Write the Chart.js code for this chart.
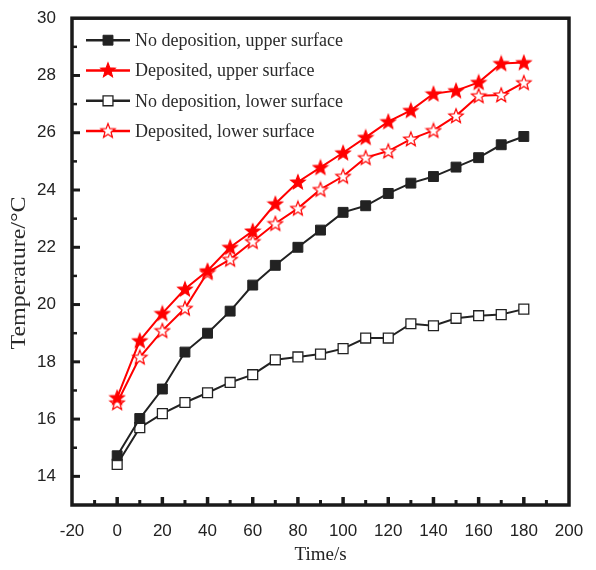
<!DOCTYPE html>
<html>
<head>
<meta charset="utf-8">
<script src="https://cdn.jsdelivr.net/npm/chart.js@4.4.0/dist/chart.umd.min.js"></script>
<style>
  html, body { margin: 0; padding: 0; background: #fff; }
</style>
</head>
<body>
<canvas id="chart" width="596" height="570"></canvas>
<script>
// Time (s) and surface temperatures (°C)
const times = [0, 10, 20, 30, 40, 50, 60, 70, 80, 90, 100, 110, 120, 130, 140, 150, 160, 170, 180];
const noDepUpper = [14.72, 16.02, 17.05, 18.34, 19.0, 19.77, 20.68, 21.37, 22.0, 22.6, 23.22, 23.45, 23.88, 24.24, 24.47, 24.8, 25.13, 25.58, 25.87];
const depUpper   = [16.75, 18.74, 19.69, 20.54, 21.18, 22.0, 22.57, 23.52, 24.28, 24.79, 25.3, 25.84, 26.39, 26.78, 27.36, 27.47, 27.76, 28.42, 28.45];
const noDepLower = [14.42, 15.7, 16.19, 16.58, 16.92, 17.28, 17.55, 18.07, 18.17, 18.27, 18.46, 18.83, 18.83, 19.33, 19.26, 19.52, 19.61, 19.65, 19.84];
const depLower   = [16.57, 18.16, 19.09, 19.87, 21.12, 21.58, 22.2, 22.83, 23.36, 24.02, 24.48, 25.13, 25.36, 25.78, 26.08, 26.59, 27.29, 27.32, 27.75];

const xTicks = [-20, 0, 20, 40, 60, 80, 100, 120, 140, 160, 180, 200];
const yTicks = [14, 16, 18, 20, 22, 24, 26, 28, 30];

const RED = '#ff0000';
const BLACK = '#222222';
const SERIF = '"Liberation Serif", "Times New Roman", serif';
const SANS = '"Liberation Sans", Arial, sans-serif';

// five-pointed star marker, filled or hollow
function makeStar(fill, stroke) {
  const c = document.createElement('canvas');
  c.width = 18; c.height = 18;
  const g = c.getContext('2d');
  const R = 7.5, r = 3.2, cx = 9, cy = 9.5;
  g.beginPath();
  for (let i = 0; i < 10; i++) {
    const rad = i % 2 ? r : R;
    const a = -Math.PI / 2 + i * Math.PI / 5;
    g.lineTo(cx + rad * Math.cos(a), cy + rad * Math.sin(a));
  }
  g.closePath();
  g.fillStyle = fill;
  g.fill();
  g.lineWidth = 1.2;
  g.strokeStyle = stroke;
  g.stroke();
  return c;
}
const starFilled = makeStar(RED, RED);
const starOpen = makeStar('#ffffff', RED);

function pts(arr) {
  return times.map((t, i) => ({ x: t, y: arr[i] }));
}

const datasets = [
  { label: 'No deposition, upper surface', data: pts(noDepUpper), borderColor: BLACK, borderWidth: 2,
    pointStyle: 'rect', pointRadius: 7, pointBackgroundColor: BLACK, pointBorderColor: BLACK, pointBorderWidth: 1 },
  { label: 'Deposited, upper surface', data: pts(depUpper), borderColor: RED, borderWidth: 2,
    pointStyle: starFilled },
  { label: 'No deposition, lower surface', data: pts(noDepLower), borderColor: BLACK, borderWidth: 2,
    pointStyle: 'rect', pointRadius: 7, pointBackgroundColor: '#ffffff', pointBorderColor: BLACK, pointBorderWidth: 1.3 },
  { label: 'Deposited, lower surface', data: pts(depLower), borderColor: RED, borderWidth: 2,
    pointStyle: starOpen }
];

// frame with inward major/minor ticks, plus the rotated y title
const framePlugin = {
  id: 'frame',
  afterDatasetsDraw(chart) {
    const { ctx, chartArea: a, scales } = chart;
    ctx.save();
    ctx.strokeStyle = '#1a1a1a';
    for (let v = -10; v < 200; v += 10) {
      const px = scales.x.getPixelForValue(v);
      const major = v % 20 === 0;
      ctx.lineWidth = major ? 3.5 : 3;
      const len = major ? 8 : 5;
      ctx.beginPath(); ctx.moveTo(px, a.bottom); ctx.lineTo(px, a.bottom - len); ctx.stroke();
    }
    for (let v = 14; v < 30; v += 1) {
      const py = scales.y.getPixelForValue(v);
      const major = v % 2 === 0;
      ctx.lineWidth = major ? 3 : 2.5;
      const len = major ? 8 : 5;
      ctx.beginPath(); ctx.moveTo(a.left, py); ctx.lineTo(a.left + len, py); ctx.stroke();
    }
    ctx.lineWidth = 3.5;
    ctx.strokeRect(a.left, a.top, a.right - a.left, a.bottom - a.top);

    // y-axis title, a little stretched along its length
    ctx.translate(20, 273);
    ctx.rotate(-Math.PI / 2);
    ctx.scale(1.2, 1);
    ctx.fillStyle = '#2a2a2a';
    ctx.font = '20px ' + SERIF;
    ctx.textAlign = 'center';
    ctx.textBaseline = 'middle';
    ctx.fillText('Temperature/°C', 0, 0);
    ctx.restore();
  }
};

// legend in the upper-left corner: line with centred marker
const legendPlugin = {
  id: 'insideLegend',
  afterDraw(chart) {
    const { ctx, chartArea: a } = chart;
    ctx.save();
    chart.data.datasets.forEach((ds, i) => {
      const y = a.top + 22 + i * 30.3;
      const x0 = a.left + 14, x1 = a.left + 58;
      ctx.strokeStyle = ds.borderColor;
      ctx.lineWidth = 2.5;
      ctx.beginPath(); ctx.moveTo(x0, y); ctx.lineTo(x1, y); ctx.stroke();
      const mx = (x0 + x1) / 2;
      if (ds.pointStyle === 'rect') {
        ctx.fillStyle = ds.pointBackgroundColor;
        ctx.strokeStyle = ds.pointBorderColor;
        ctx.lineWidth = ds.pointBorderWidth;
        Chart.helpers.drawPoint(ctx, { pointStyle: 'rect', radius: 7, rotation: 0, borderWidth: ds.pointBorderWidth }, mx, y);
      } else {
        ctx.drawImage(ds.pointStyle, mx - 9, y - 9.5);
      }
      ctx.fillStyle = '#2a2a2a';
      ctx.font = '18px ' + SERIF;
      ctx.textBaseline = 'middle';
      ctx.fillText(ds.label, x1 + 5, y + 1);
    });
    ctx.restore();
  }
};

new Chart(document.getElementById('chart'), {
  type: 'line',
  data: { datasets },
  options: {
    responsive: false,
    animation: false,
    layout: { padding: { top: 18, right: 27, left: 0, bottom: 0 } },
    plugins: { legend: { display: false }, tooltip: { enabled: false } },
    elements: { line: { tension: 0 } },
    scales: {
      x: {
        type: 'linear', min: -20, max: 200,
        afterBuildTicks: s => { s.ticks = xTicks.map(v => ({ value: v })); },
        afterFit: s => { s.height = 65; },
        grid: { display: false },
        border: { display: false },
        ticks: { padding: 8, color: '#222', font: { family: SANS, size: 17 } },
        title: { display: true, text: 'Time/s', color: '#222', padding: { top: 4 },
                 font: { family: SERIF, size: 19 } }
      },
      y: {
        min: 13, max: 30,
        afterBuildTicks: s => { s.ticks = yTicks.map(v => ({ value: v })); },
        afterFit: s => { s.width = 72; },
        grid: { display: false },
        border: { display: false },
        ticks: { padding: 8, color: '#222', font: { family: SANS, size: 17 } },
        title: { display: false }
      }
    }
  },
  plugins: [framePlugin, legendPlugin]
});
</script>
</body>
</html>
